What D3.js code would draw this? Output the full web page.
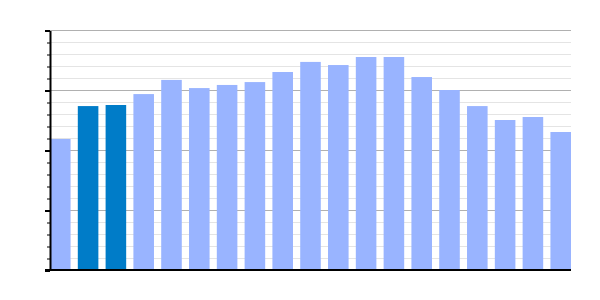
<!DOCTYPE html>
<html><head><meta charset="utf-8">
<script src="https://cdn.jsdelivr.net/npm/d3@7"></script>
<style>body{margin:0;background:#fff}svg{display:block}</style>
</head><body>
<svg id="c" width="600" height="300"></svg>
<script>
const categories = ["1","2","3","4","5","6","7","8","9","10","11","12","13","14","15","16","17","18","19"];
const values = [54.6,68.3,68.75,73.3,79.2,75.8,77.1,78.3,82.5,86.7,85.4,88.75,88.75,80.4,75,68.3,62.5,63.75,57.5];
const highlighted = ["2","3"];
const majorTicks = [0,25,50,75,100];
const minorTicks = d3.range(0,101,5);

const svg = d3.select("#c");
const m = {l:50, r:29, t:30, b:30};
const W = 600, H = 300;
const x = d3.scaleBand().domain(categories).range([m.l, W-m.r]).paddingInner(0.26).paddingOuter(0);
const y = d3.scaleLinear().domain([0,100]).range([H-m.b, m.t]);

// minor grid
svg.append("g").selectAll("line").data(minorTicks.filter(d=>!majorTicks.includes(d))).join("line")
  .attr("x1", m.l).attr("x2", W-m.r).attr("y1", d=>y(d)+0.5).attr("y2", d=>y(d)+0.5)
  .attr("stroke", "#e4e4e4").attr("stroke-width", 1);
// major grid
svg.append("g").selectAll("line").data(majorTicks.filter(d=>d>0)).join("line")
  .attr("x1", m.l).attr("x2", W-m.r).attr("y1", d=>y(d)+0.5).attr("y2", d=>y(d)+0.5)
  .attr("stroke", "#b0b0b0").attr("stroke-width", 1);

// bars
svg.append("g").selectAll("rect").data(categories).join("rect")
  .attr("x", d=>x(d)).attr("width", x.bandwidth())
  .attr("y", (d,i)=>y(values[i])).attr("height", (d,i)=>y(0)-y(values[i]))
  .attr("fill", d=>highlighted.includes(d) ? "#007cc8" : "#99b4ff");

// y axis
const yMinor = svg.append("g").attr("transform", `translate(${m.l},0.5)`)
  .call(d3.axisLeft(y).tickValues(minorTicks).tickSize(3).tickFormat(""));
yMinor.select(".domain").remove();
yMinor.selectAll("line").attr("stroke","#000").attr("stroke-width",1);
const yMajor = svg.append("g").attr("transform", `translate(${m.l},0.5)`)
  .call(d3.axisLeft(y).tickValues(majorTicks).tickSize(5).tickSizeOuter(0).tickFormat(""));
yMajor.select(".domain").attr("stroke","#000").attr("stroke-width",2);
yMajor.selectAll("line").attr("stroke","#000").attr("stroke-width",2);

// x axis
const xa = svg.append("g").attr("transform", `translate(0,${y(0)})`)
  .call(d3.axisBottom(x).tickSize(0).tickSizeOuter(0).tickFormat(""));
xa.select(".domain").attr("stroke","#000").attr("stroke-width",2)
  .attr("d", `M${m.l-5},0H${W-m.r}`);
</script>
</body></html>
